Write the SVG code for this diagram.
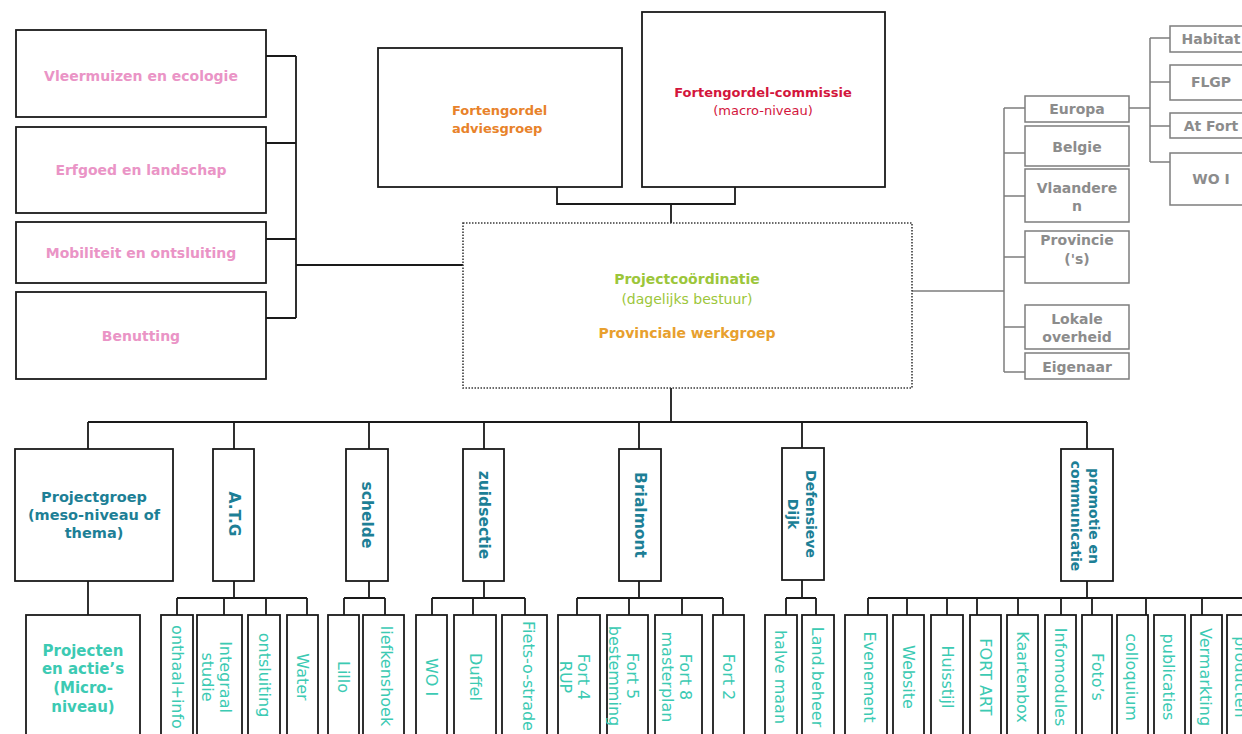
<svg xmlns="http://www.w3.org/2000/svg" width="1242" height="734" viewBox="0 0 1242 734">
<style>
.bx{fill:#fff;stroke:#1a1a1a;stroke-width:1.8}
.gbx{fill:#fff;stroke:#7d7d7d;stroke-width:1.5}
.dot{fill:#fff;stroke:#3a3a3a;stroke-width:1.6;stroke-dasharray:1.5 1.5}
.ln{fill:none;stroke:#1a1a1a;stroke-width:1.8}
.gln{fill:none;stroke:#7d7d7d;stroke-width:1.5}
text{font-family:"DejaVu Sans","Liberation Sans",sans-serif;text-anchor:middle;dominant-baseline:central}
.pink{fill:#ea94c6;font-weight:bold;font-size:14px}
.gray{fill:#8c8c8c;font-weight:bold;font-size:14px}
.l2{fill:#1d7f96;font-weight:bold;font-size:14.5px}
.l2r{fill:#1d7f96;font-weight:bold;font-size:15.5px}
.l2s{fill:#1d7f96;font-weight:bold;font-size:14px}
.l3{fill:#3ccab3;font-size:16px}
.l3b{fill:#3ccab3;font-size:15px;font-weight:bold}
</style>
<g id="connectors">
<path class="ln" d="M266,56H296M266,143H296M266,239H296M266,318H296M296,56V318M296,265H463"/>
<path class="ln" d="M557,187V204H735V187M671,204V223"/>
<path class="ln" d="M671,388V422M88,422H1087M88,422V449M234,422V449M369,422V449M484,422V449M639,422V449M802,422V448M1087,422V449"/>
<path class="ln" d="M88,581V615"/>
<path class="ln" d="M234,581V598M177,598H307M177,598V615M224,598V615M266,598V615M307,598V615"/>
<path class="ln" d="M369,581V598M344,598H385M344,598V615M385,598V615"/>
<path class="ln" d="M484,581V598M432,598H525M432,598V615M473,598V615M525,598V615"/>
<path class="ln" d="M639,581V598M577,598H723M577,598V615M629,598V615M682,598V615M723,598V615"/>
<path class="ln" d="M802,580V598M786,598H816M786,598V615M816,598V615"/>
<path class="ln" d="M1087,581V598M868,598H1242M868,598V615M907,598V615M947,598V615M977,598V615M1018,598V615M1061,598V615M1092,598V615M1146,598V615M1202,598V615"/>
<path class="gln" d="M912,291H1004M1004,108V372M1004,108H1025M1004,153H1025M1004,196H1025M1004,257H1025M1004,327H1025M1004,372H1025M1129,108H1150M1150,38V162M1150,38H1170M1150,82H1170M1150,126H1170M1150,162H1170"/>
</g>
<g id="n-vleermuizen"><rect class="bx" x="16" y="30" width="250" height="87"/><text class="pink" x="141" y="76">Vleermuizen en ecologie</text></g>
<g id="n-erfgoed"><rect class="bx" x="16" y="127" width="250" height="86"/><text class="pink" x="141" y="170">Erfgoed en landschap</text></g>
<g id="n-mobiliteit"><rect class="bx" x="16" y="222" width="250" height="61"/><text class="pink" x="141" y="253">Mobiliteit en ontsluiting</text></g>
<g id="n-benutting"><rect class="bx" x="16" y="292" width="250" height="87"/><text class="pink" x="141" y="336">Benutting</text></g>
<g id="n-adviesgroep"><rect class="bx" x="378" y="48" width="244" height="139"/>
<text style="fill:#e8822a;font-weight:bold;font-size:13px;text-anchor:start" x="452" y="110">Fortengordel</text>
<text style="fill:#e8822a;font-weight:bold;font-size:13px;text-anchor:start" x="452" y="128">adviesgroep</text></g>
<g id="n-commissie"><rect class="bx" x="642" y="12" width="243" height="175"/>
<text style="fill:#d3153c;font-weight:bold;font-size:13px" x="763" y="92">Fortengordel-commissie</text>
<text style="fill:#d3153c;font-size:13px" x="763" y="110">(macro-niveau)</text></g>
<g id="n-coordinatie"><rect class="dot" x="463" y="223" width="449" height="165"/>
<text style="fill:#9cc63a;font-weight:bold;font-size:14px" x="687" y="279">Projectcoördinatie</text>
<text style="fill:#9cc63a;font-size:14px" x="687" y="299">(dagelijks bestuur)</text>
<text style="fill:#e8a02e;font-weight:bold;font-size:14px" x="687" y="333">Provinciale werkgroep</text></g>
<g id="n-europa"><rect class="gbx" x="1025" y="96" width="104" height="26"/><text class="gray" x="1077" y="109">Europa</text></g>
<g id="n-belgie"><rect class="gbx" x="1025" y="126" width="104" height="40"/><text class="gray" x="1077" y="147">Belgie</text></g>
<g id="n-vlaanderen"><rect class="gbx" x="1025" y="169" width="104" height="53"/><text class="gray" x="1077" y="188">Vlaandere</text><text class="gray" x="1077" y="206">n</text></g>
<g id="n-provincie"><rect class="gbx" x="1025" y="231" width="104" height="52"/><text class="gray" x="1077" y="240">Provincie</text><text class="gray" x="1077" y="259">('s)</text></g>
<g id="n-lokale"><rect class="gbx" x="1025" y="305" width="104" height="44"/><text class="gray" x="1077" y="319">Lokale</text><text class="gray" x="1077" y="337">overheid</text></g>
<g id="n-eigenaar"><rect class="gbx" x="1025" y="353" width="104" height="26"/><text class="gray" x="1077" y="367">Eigenaar</text></g>
<g id="n-habitat"><rect class="gbx" x="1170" y="26" width="82" height="26"/><text class="gray" x="1211" y="39">Habitat</text></g>
<g id="n-flgp"><rect class="gbx" x="1170" y="65" width="82" height="35"/><text class="gray" x="1211" y="82">FLGP</text></g>
<g id="n-atfort"><rect class="gbx" x="1170" y="113" width="82" height="25"/><text class="gray" x="1211" y="126">At Fort</text></g>
<g id="n-woi-top"><rect class="gbx" x="1170" y="153" width="82" height="52"/><text class="gray" x="1211" y="179">WO I</text></g>
<g id="n-projectgroep"><rect class="bx" x="15" y="449" width="158" height="132"/>
<text class="l2" x="94" y="497">Projectgroep</text><text class="l2" x="94" y="515">(meso-niveau of</text><text class="l2" x="94" y="533">thema)</text></g>
<g id="n-atg"><rect class="bx" x="213" y="449" width="41" height="132"/><text class="l2r" transform="translate(234,514) rotate(90)">A.T.G</text></g>
<g id="n-schelde"><rect class="bx" x="346" y="449" width="42" height="132"/><text class="l2r" transform="translate(367,515) rotate(90)">schelde</text></g>
<g id="n-zuidsectie"><rect class="bx" x="463" y="449" width="41" height="132"/><text class="l2r" transform="translate(484,515) rotate(90)">zuidsectie</text></g>
<g id="n-brialmont"><rect class="bx" x="619" y="449" width="42" height="132"/><text class="l2r" transform="translate(640,515) rotate(90)">Brialmont</text></g>
<g id="n-defensieve"><rect class="bx" x="782" y="448" width="42" height="132"/><text class="l2s" transform="translate(802,514) rotate(90)"><tspan x="0" y="-9">Defensieve</tspan><tspan x="0" y="9">Dijk</tspan></text></g>
<g id="n-promotie"><rect class="bx" x="1061" y="449" width="52" height="132"/><text class="l2s" transform="translate(1085,516) rotate(90)"><tspan x="0" y="-9">promotie en</tspan><tspan x="0" y="9">communicatie</tspan></text></g>
<g id="n-projecten"><rect class="bx" x="26" y="615" width="114" height="130"/>
<text class="l3b" x="83" y="651">Projecten</text><text class="l3b" x="83" y="669">en actie’s</text><text class="l3b" x="83" y="688">(Micro-</text><text class="l3b" x="83" y="707">niveau)</text></g>
<g id="n-onthaal"><rect class="bx" x="161" y="615" width="32" height="130"/><text class="l3" transform="translate(177,677) rotate(90)">onthaal+info</text></g>
<g id="n-integraal"><rect class="bx" x="197" y="615" width="45" height="130"/><text class="l3" transform="translate(217,677) rotate(90)"><tspan x="0" y="-9">Integraal</tspan><tspan x="0" y="9">studie</tspan></text></g>
<g id="n-ontsluiting"><rect class="bx" x="248" y="615" width="32" height="130"/><text class="l3" transform="translate(264,675) rotate(90)">ontsluiting</text></g>
<g id="n-water"><rect class="bx" x="287" y="615" width="31" height="130"/><text class="l3" transform="translate(302,677) rotate(90)">Water</text></g>
<g id="n-lillo"><rect class="bx" x="328" y="615" width="31" height="130"/><text class="l3" transform="translate(343,677) rotate(90)">Lillo</text></g>
<g id="n-liefkenshoek"><rect class="bx" x="363" y="615" width="41" height="130"/><text class="l3" transform="translate(386,676) rotate(90)">liefkenshoek</text></g>
<g id="n-woi"><rect class="bx" x="416" y="615" width="31" height="130"/><text class="l3" transform="translate(431,677) rotate(90)">WO I</text></g>
<g id="n-duffel"><rect class="bx" x="454" y="615" width="42" height="130"/><text class="l3" transform="translate(475,677) rotate(90)">Duffel</text></g>
<g id="n-fiets"><rect class="bx" x="502" y="615" width="45" height="130"/><text class="l3" transform="translate(528,676) rotate(90)">Fiets-o-strade</text></g>
<g id="n-fort4"><rect class="bx" x="558" y="615" width="42" height="130"/><text class="l3" transform="translate(575,677) rotate(90)"><tspan x="0" y="-9">Fort 4</tspan><tspan x="0" y="9">RUP</tspan></text></g>
<g id="n-fort5"><rect class="bx" x="607" y="615" width="41" height="130"/><text class="l3" transform="translate(624,676) rotate(90)"><tspan x="0" y="-9">Fort 5</tspan><tspan x="0" y="9">bestemming</tspan></text></g>
<g id="n-fort8"><rect class="bx" x="655" y="615" width="47" height="130"/><text class="l3" transform="translate(677,677) rotate(90)"><tspan x="0" y="-9">Fort 8</tspan><tspan x="0" y="9">masterplan</tspan></text></g>
<g id="n-fort2"><rect class="bx" x="713" y="615" width="31" height="130"/><text class="l3" transform="translate(728,677) rotate(90)">Fort 2</text></g>
<g id="n-halvemaan"><rect class="bx" x="765" y="615" width="32" height="130"/><text class="l3" transform="translate(780,677) rotate(90)">halve maan</text></g>
<g id="n-landbeheer"><rect class="bx" x="802" y="615" width="32" height="130"/><text class="l3" transform="translate(817,677) rotate(90)">Land.beheer</text></g>
<g id="n-evenement"><rect class="bx" x="845" y="615" width="42" height="130"/><text class="l3" transform="translate(869,677) rotate(90)">Evenement</text></g>
<g id="n-website"><rect class="bx" x="893" y="615" width="31" height="130"/><text class="l3" transform="translate(908,677) rotate(90)">Website</text></g>
<g id="n-huisstijl"><rect class="bx" x="931" y="615" width="32" height="130"/><text class="l3" transform="translate(947,677) rotate(90)">Huisstijl</text></g>
<g id="n-fortart"><rect class="bx" x="970" y="615" width="31" height="130"/><text class="l3" transform="translate(985,677) rotate(90)">FORT ART</text></g>
<g id="n-kaartenbox"><rect class="bx" x="1007" y="615" width="31" height="130"/><text class="l3" transform="translate(1022,677) rotate(90)">Kaartenbox</text></g>
<g id="n-infomodules"><rect class="bx" x="1045" y="615" width="31" height="130"/><text class="l3" transform="translate(1060,677) rotate(90)">Infomodules</text></g>
<g id="n-fotos"><rect class="bx" x="1082" y="615" width="30" height="130"/><text class="l3" transform="translate(1097,677) rotate(90)">Foto’s</text></g>
<g id="n-colloquium"><rect class="bx" x="1117" y="615" width="31" height="130"/><text class="l3" transform="translate(1131,677) rotate(90)">colloquium</text></g>
<g id="n-publicaties"><rect class="bx" x="1154" y="615" width="31" height="130"/><text class="l3" transform="translate(1168,677) rotate(90)">publicaties</text></g>
<g id="n-vermarkting"><rect class="bx" x="1191" y="615" width="31" height="130"/><text class="l3" transform="translate(1205,677) rotate(90)">Vermarkting</text></g>
<g id="n-producten"><rect class="bx" x="1227" y="615" width="34" height="130"/><text class="l3" transform="translate(1240,677) rotate(90)">producten</text></g>
</svg>
